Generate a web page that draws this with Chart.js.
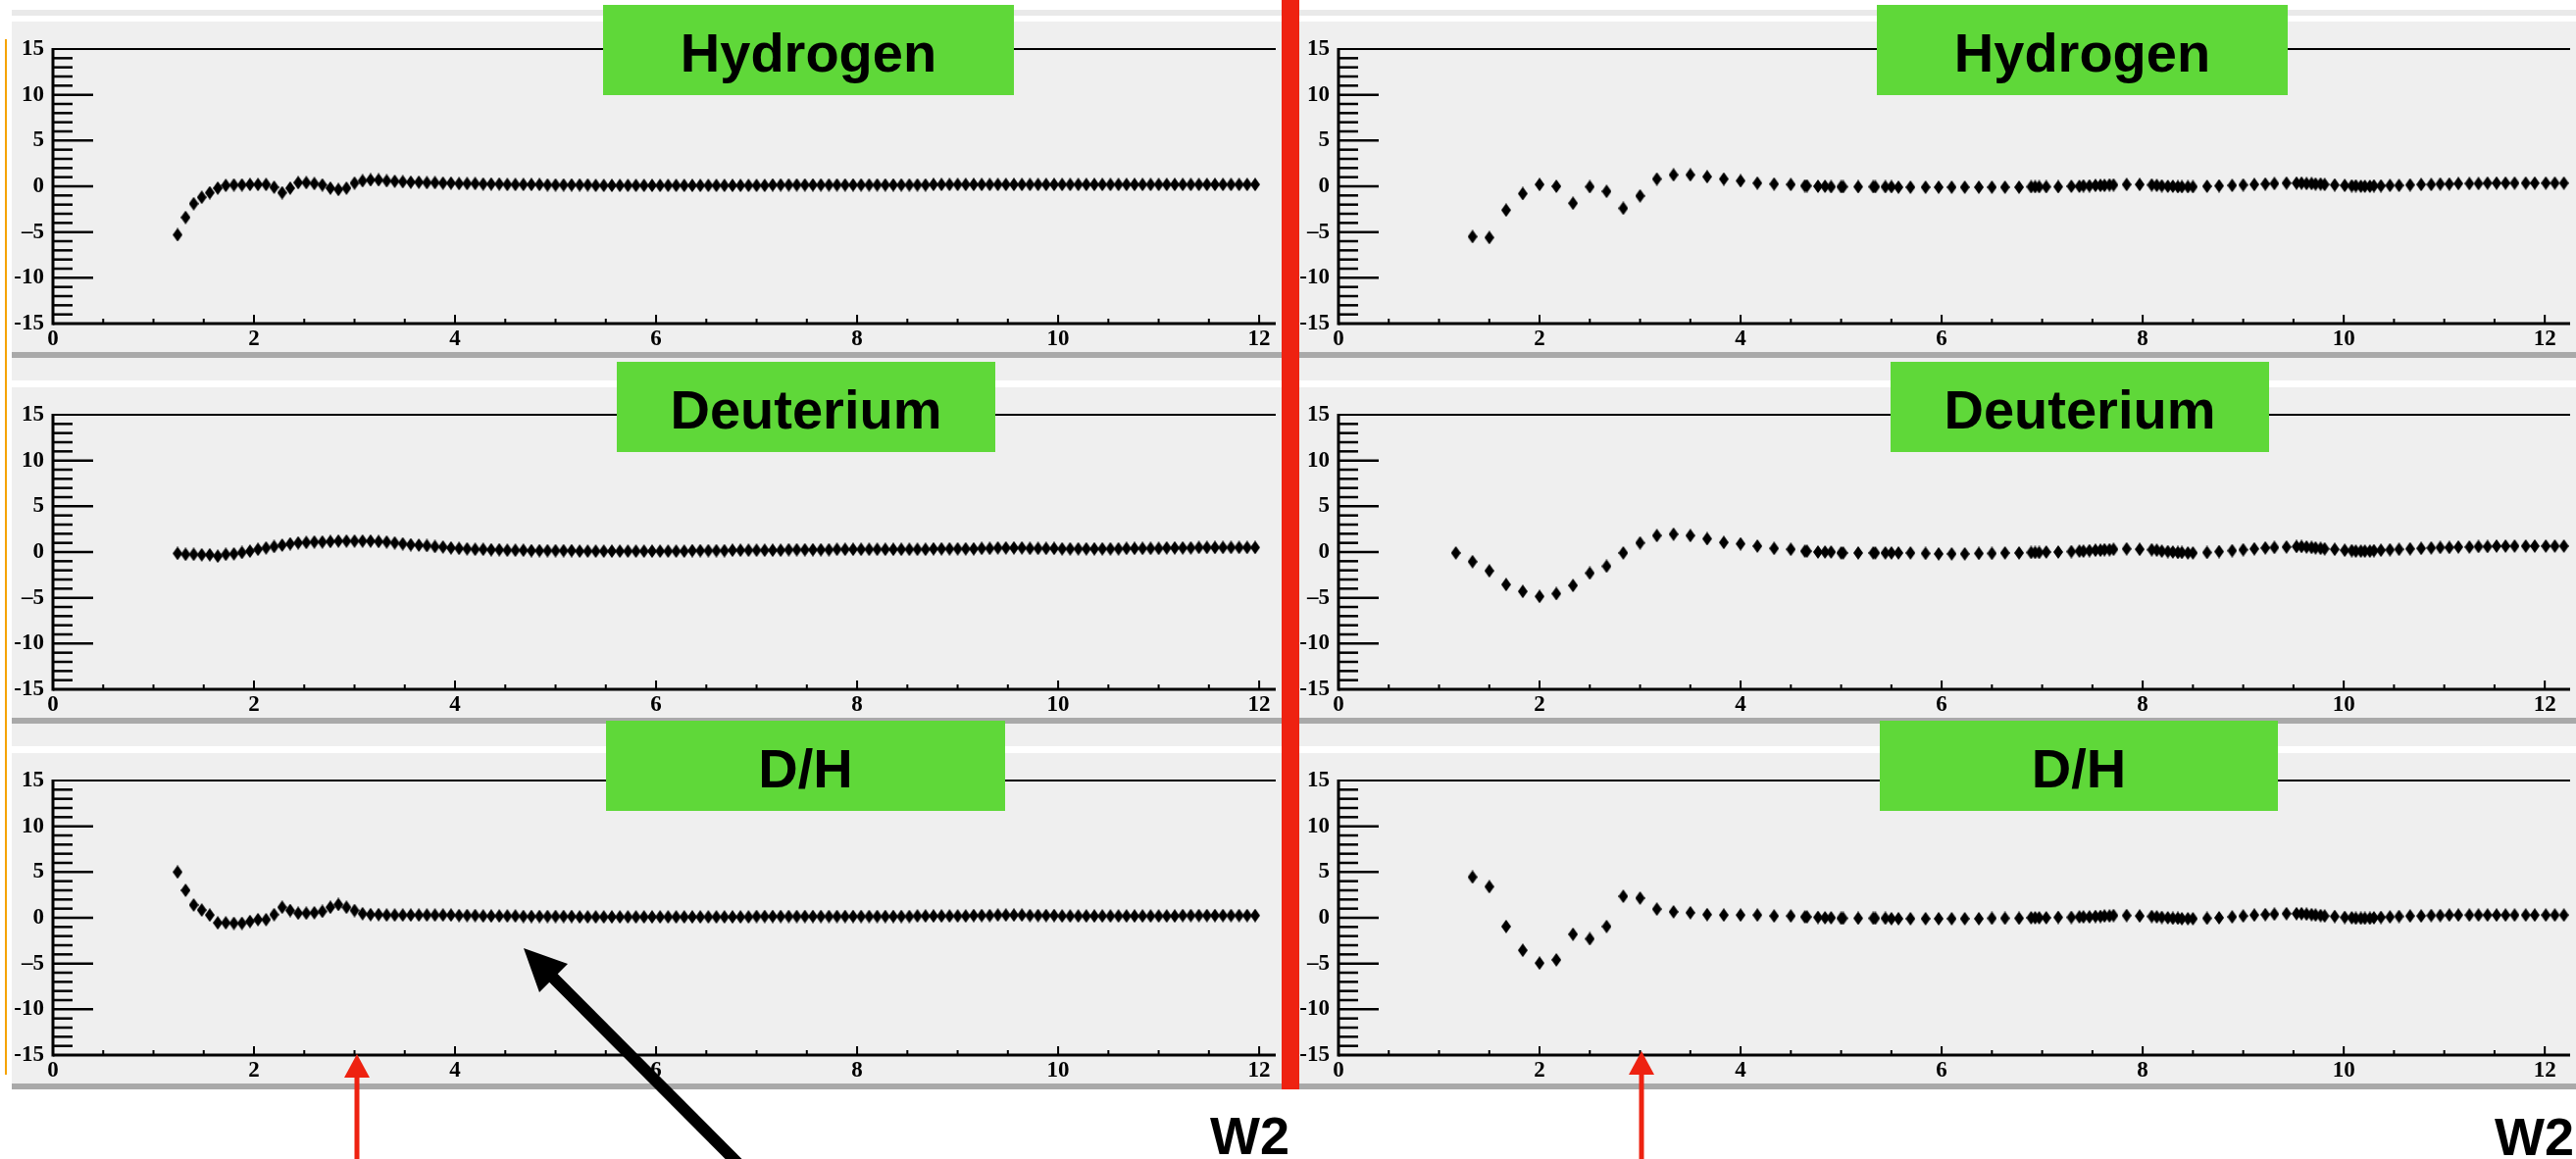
<!DOCTYPE html>
<html>
<head>
<meta charset="utf-8">
<script src="https://cdn.jsdelivr.net/npm/chart.js@4.4.1/dist/chart.umd.min.js"></script>
<style>
  body { margin:0; width:2627px; height:1182px; position:relative; overflow:hidden; background:#fff; font-family:'Liberation Sans', Arial, sans-serif; }
  .bg { position:absolute; left:12px; right:0; background:#efefef; }
  .sep { position:absolute; left:12px; right:0; height:6px; background:#a9a9a9; }
  canvas { position:absolute; z-index:2; }
  .title { position:absolute; z-index:4; background:#5fd839; color:#000; font-weight:bold; font-size:56px;
           display:flex; align-items:center; justify-content:center; padding-top:5px; box-sizing:border-box; }
  .w2 { position:absolute; z-index:4; font-weight:bold; font-size:54px; line-height:1; color:#000; }
</style>
</head>
<body>

<!-- panel backgrounds -->
<div class="bg" style="top:10px;height:6px;background:#e9e9e9"></div>
<div class="bg" style="top:22px;height:337px"></div>
<div class="sep" style="top:359px"></div>
<div class="bg" style="top:365px;height:23px"></div>
<div class="bg" style="top:395px;height:337px"></div>
<div class="sep" style="top:732px"></div>
<div class="bg" style="top:738px;height:23px"></div>
<div class="bg" style="top:768px;height:337px"></div>
<div class="sep" style="top:1105px"></div>
<div style="position:absolute;left:5px;top:40px;width:2px;height:1056px;background:#f5a300"></div>

<canvas id="hL" width="1307" height="350" style="left:0;top:20px"></canvas>
<canvas id="dL" width="1307" height="350" style="left:0;top:393px"></canvas>
<canvas id="rL" width="1307" height="350" style="left:0;top:766px"></canvas>
<canvas id="hR" width="1337" height="350" style="left:1290px;top:20px"></canvas>
<canvas id="dR" width="1337" height="350" style="left:1290px;top:393px"></canvas>
<canvas id="rR" width="1337" height="350" style="left:1290px;top:766px"></canvas>

<div style="position:absolute;z-index:5;left:1307px;top:0;width:18px;height:1111px;background:#ee2211"></div>

<div class="title" style="left:615px;top:5px;width:419px;height:92px">Hydrogen</div>
<div class="title" style="left:629px;top:369px;width:386px;height:92px">Deuterium</div>
<div class="title" style="left:618px;top:735px;width:407px;height:92px">D/H</div>
<div class="title" style="left:1914px;top:5px;width:419px;height:92px">Hydrogen</div>
<div class="title" style="left:1928px;top:369px;width:386px;height:92px">Deuterium</div>
<div class="title" style="left:1917px;top:735px;width:406px;height:92px">D/H</div>

<div class="w2" style="left:1234px;top:1131px">W2</div>
<div class="w2" style="left:2544px;top:1132px">W2</div>

<svg width="2627" height="1182" style="position:absolute;left:0;top:0;z-index:6">
  <rect x="361.5" y="1096" width="5" height="86" fill="#ee2211"/>
  <polygon points="364,1075 351,1099 377,1099" fill="#ee2211"/>
  <rect x="1671.5" y="1093" width="5" height="89" fill="#ee2211"/>
  <polygon points="1674,1072 1661,1096 1687,1096" fill="#ee2211"/>
  <line x1="560" y1="993" x2="772" y2="1206" stroke="#000" stroke-width="12"/>
  <polygon points="534,967 579,983 550,1012" fill="#000"/>
</svg>

<script>
// x positions of the left column (all three panels)
const xLeft = [
  1.24,1.32,1.40,1.48,1.56,1.64,1.72,1.80,1.88,1.96,
  2.04,2.12,2.20,2.28,2.36,2.44,2.52,2.60,2.68,2.76,
  2.84,2.92,3.00,3.08,3.16,3.24,3.32,3.40,3.48,3.56,
  3.64,3.72,3.80,3.88,3.96,4.04,4.12,4.20,4.28,4.36,
  4.44,4.52,4.60,4.68,4.76,4.84,4.92,5.00,5.08,5.16,
  5.24,5.32,5.40,5.48,5.56,5.64,5.72,5.80,5.88,5.96,
  6.04,6.12,6.20,6.28,6.36,6.44,6.52,6.60,6.68,6.76,
  6.84,6.92,7.00,7.08,7.16,7.24,7.32,7.40,7.48,7.56,
  7.64,7.72,7.80,7.88,7.96,8.04,8.12,8.20,8.28,8.36,
  8.44,8.52,8.60,8.68,8.76,8.84,8.92,9.00,9.08,9.16,
  9.24,9.32,9.40,9.48,9.56,9.64,9.72,9.80,9.88,9.96,
  10.04,10.12,10.20,10.28,10.36,10.44,10.52,10.60,10.68,10.76,
  10.84,10.92,11.00,11.08,11.16,11.24,11.32,11.40,11.48,11.56,
  11.64,11.72,11.80,11.88,11.96
];
const hydrogenLeft = [
  -5.3,-3.4,-1.9,-1.2,-0.7,-0.2,0.1,0.15,0.15,0.2,
  0.2,0.2,-0.1,-0.7,-0.2,0.4,0.4,0.3,0.15,-0.2,
  -0.35,-0.2,0.35,0.6,0.7,0.7,0.6,0.55,0.5,0.45,
  0.45,0.4,0.4,0.35,0.35,0.3,0.3,0.3,0.25,0.25,
  0.25,0.2,0.2,0.2,0.2,0.2,0.15,0.15,0.15,0.15,
  0.15,0.15,0.1,0.1,0.1,0.1,0.1,0.1,0.1,0.1,
  0.1,0.1,0.1,0.1,0.1,0.1,0.1,0.1,0.1,0.1,
  0.1,0.1,0.1,0.1,0.15,0.15,0.15,0.15,0.15,0.15,
  0.15,0.15,0.15,0.15,0.15,0.15,0.15,0.15,0.15,0.15,
  0.15,0.15,0.15,0.15,0.2,0.2,0.2,0.2,0.2,0.2,
  0.2,0.2,0.2,0.2,0.2,0.2,0.2,0.2,0.2,0.2,
  0.2,0.2,0.2,0.2,0.2,0.2,0.2,0.2,0.2,0.2,
  0.2,0.2,0.2,0.2,0.2,0.2,0.2,0.2,0.2,0.2,
  0.2,0.2,0.2,0.2,0.2
];
const deuteriumLeft = [
  -0.15,-0.25,-0.25,-0.3,-0.3,-0.45,-0.25,-0.2,-0.05,0.1,
  0.3,0.45,0.6,0.75,0.9,1.0,1.05,1.1,1.1,1.15,
  1.2,1.2,1.2,1.2,1.2,1.15,1.1,1.0,0.9,0.8,
  0.75,0.7,0.6,0.55,0.45,0.4,0.35,0.3,0.3,0.25,
  0.25,0.2,0.2,0.2,0.15,0.15,0.15,0.15,0.15,0.15,
  0.1,0.1,0.1,0.1,0.1,0.1,0.1,0.1,0.1,0.1,
  0.1,0.1,0.1,0.1,0.15,0.15,0.15,0.15,0.15,0.2,
  0.2,0.2,0.2,0.2,0.2,0.2,0.25,0.25,0.25,0.25,
  0.25,0.25,0.3,0.3,0.3,0.3,0.3,0.3,0.3,0.3,
  0.3,0.3,0.3,0.3,0.35,0.35,0.35,0.35,0.35,0.35,
  0.4,0.4,0.45,0.45,0.45,0.45,0.4,0.4,0.4,0.4,
  0.35,0.35,0.35,0.35,0.35,0.35,0.35,0.35,0.4,0.4,
  0.4,0.4,0.4,0.45,0.45,0.45,0.45,0.5,0.5,0.5,
  0.5,0.5,0.5,0.5,0.5
];
const ratioLeft = [
  5.0,3.0,1.4,0.85,0.3,-0.55,-0.55,-0.6,-0.6,-0.4,
  -0.2,-0.2,0.35,1.15,0.8,0.5,0.5,0.55,0.7,1.15,
  1.45,1.15,0.8,0.45,0.35,0.35,0.3,0.3,0.3,0.3,
  0.3,0.3,0.3,0.3,0.3,0.25,0.25,0.25,0.2,0.2,
  0.2,0.2,0.2,0.15,0.15,0.15,0.15,0.15,0.15,0.15,
  0.1,0.1,0.1,0.1,0.1,0.1,0.1,0.1,0.1,0.1,
  0.1,0.1,0.1,0.1,0.1,0.1,0.1,0.1,0.1,0.1,
  0.1,0.1,0.15,0.15,0.15,0.15,0.15,0.15,0.15,0.15,
  0.15,0.15,0.15,0.15,0.15,0.15,0.15,0.15,0.15,0.15,
  0.15,0.15,0.2,0.2,0.2,0.2,0.2,0.2,0.2,0.25,
  0.25,0.25,0.3,0.3,0.3,0.3,0.25,0.25,0.25,0.25,
  0.2,0.2,0.2,0.2,0.2,0.2,0.2,0.2,0.2,0.2,
  0.2,0.2,0.2,0.2,0.2,0.25,0.25,0.25,0.25,0.25,
  0.25,0.25,0.25,0.25,0.25
];

// x positions of the right column
const xRight = [
  1.167,1.333,1.5,1.667,1.833,2.0,2.167,2.333,2.5,2.667,
  2.833,3.0,3.167,3.333,3.5,3.667,3.833,4.0,4.167,4.333,
  4.5,4.64,4.66,4.77,4.84,4.9,5.0,5.02,5.17,5.32,
  5.34,5.44,5.5,5.57,5.69,5.84,5.97,6.1,6.23,6.37,
  6.5,6.63,6.77,6.89,6.93,6.97,7.04,7.16,7.29,7.37,
  7.41,7.47,7.53,7.58,7.62,7.67,7.71,7.84,7.97,8.09,
  8.14,8.19,8.25,8.3,8.35,8.39,8.45,8.5,8.64,8.76,
  8.89,9.0,9.11,9.22,9.31,9.43,9.53,9.58,9.63,9.68,
  9.72,9.77,9.81,9.91,10.01,10.08,10.12,10.17,10.21,10.26,
  10.3,10.37,10.46,10.55,10.66,10.77,10.87,10.96,11.05,11.14,
  11.25,11.34,11.43,11.52,11.61,11.7,11.81,11.9,12.01,12.1,
  12.19
];
const hydrogenRight = [
  null,-5.5,-5.6,-2.6,-0.8,0.2,0.0,-1.85,-0.05,-0.55,
  -2.4,-1.05,0.8,1.25,1.25,1.05,0.8,0.6,0.35,0.25,
  0.2,0.05,0.05,0.0,0.0,-0.05,-0.05,-0.05,-0.05,-0.05,
  -0.05,-0.05,-0.05,-0.1,-0.1,-0.1,-0.1,-0.1,-0.1,-0.1,
  -0.1,-0.1,-0.1,-0.05,-0.05,-0.05,-0.05,-0.05,0.0,0.0,
  0.05,0.05,0.1,0.1,0.1,0.15,0.15,0.2,0.2,0.15,
  0.1,0.05,0.0,0.0,-0.05,-0.05,-0.05,-0.05,0.0,0.05,
  0.1,0.15,0.2,0.25,0.3,0.35,0.35,0.35,0.3,0.3,
  0.25,0.25,0.2,0.15,0.1,0.05,0.05,0.0,0.0,0.0,
  0.05,0.05,0.1,0.1,0.15,0.2,0.2,0.25,0.25,0.3,
  0.3,0.3,0.35,0.35,0.35,0.35,0.35,0.35,0.35,0.35,
  0.35
];
const deuteriumRight = [
  -0.1,-1.05,-2.05,-3.55,-4.3,-4.85,-4.55,-3.65,-2.3,-1.55,
  -0.1,1.0,1.8,1.95,1.8,1.45,1.05,0.9,0.65,0.4,
  0.3,0.1,0.1,0.0,0.0,0.0,-0.1,-0.1,-0.1,-0.1,
  -0.1,-0.1,-0.1,-0.1,-0.1,-0.15,-0.2,-0.2,-0.2,-0.15,
  -0.15,-0.1,-0.1,-0.05,-0.05,-0.05,0.0,0.0,0.05,0.1,
  0.1,0.15,0.2,0.2,0.25,0.25,0.3,0.35,0.3,0.25,
  0.2,0.1,0.05,0.0,-0.05,-0.05,-0.1,-0.1,-0.05,0.05,
  0.15,0.25,0.35,0.45,0.5,0.55,0.6,0.6,0.55,0.5,
  0.45,0.4,0.35,0.3,0.2,0.15,0.1,0.1,0.1,0.1,
  0.15,0.2,0.25,0.3,0.35,0.4,0.45,0.5,0.5,0.55,
  0.55,0.6,0.6,0.65,0.65,0.65,0.65,0.65,0.65,0.65,
  0.65
];
const ratioRight = [
  null,4.45,3.4,-0.95,-3.55,-4.95,-4.6,-1.8,-2.3,-0.95,
  2.35,2.15,0.95,0.65,0.55,0.35,0.3,0.3,0.3,0.2,
  0.2,0.1,0.1,0.05,0.0,0.0,-0.05,-0.05,-0.05,-0.05,
  -0.05,-0.05,-0.1,-0.1,-0.1,-0.1,-0.1,-0.1,-0.1,-0.1,
  -0.05,-0.05,-0.05,0.0,0.0,0.0,0.0,0.05,0.05,0.1,
  0.1,0.1,0.15,0.15,0.2,0.2,0.25,0.25,0.2,0.15,
  0.1,0.05,0.0,-0.05,-0.05,-0.1,-0.1,-0.1,-0.05,0.0,
  0.1,0.2,0.3,0.35,0.4,0.45,0.45,0.45,0.4,0.35,
  0.3,0.25,0.2,0.15,0.05,0.0,-0.05,-0.05,-0.05,-0.05,
  0.0,0.05,0.1,0.15,0.2,0.2,0.25,0.25,0.3,0.3,
  0.3,0.3,0.3,0.3,0.3,0.3,0.3,0.3,0.3,0.3,
  0.3
];

const xTickValues = [0, 2, 4, 6, 8, 10, 12];
const xTickLabels = ['0', '2', '4', '6', '8', '10', '12'];
const yTickValues = [-15, -10, -5, 0, 5, 10, 15];
const yTickLabels = ['-15', '-10', '\u20135', '0', '5', '10', '15'];

function diamond(w, h) {
  const c = document.createElement('canvas');
  c.width = w; c.height = h;
  const g = c.getContext('2d');
  g.fillStyle = '#000';
  g.beginPath();
  g.moveTo(w / 2, 0); g.lineTo(w, h / 2); g.lineTo(w / 2, h); g.lineTo(0, h / 2);
  g.closePath();
  g.fill();
  return c;
}
const marker = diamond(10, 14);

// ROOT-like frame: thick axes, ticks pointing into the pad
const frame = {
  id: 'frame',
  afterDraw(chart) {
    const {ctx, chartArea: a, scales: {x, y}} = chart;
    const seg = (x1, y1, x2, y2) => { ctx.beginPath(); ctx.moveTo(x1, y1); ctx.lineTo(x2, y2); ctx.stroke(); };
    ctx.save();
    ctx.strokeStyle = '#000';
    ctx.lineWidth = 2.5;
    for (let v = -14; v <= 14; v++) {
      const py = y.getPixelForValue(v);
      seg(a.left, py, a.left + (v % 5 === 0 ? 41 : 20), py);
    }
    ctx.lineWidth = 2;
    for (let v = 0.5; v < x.max; v += 0.5) {
      const px = x.getPixelForValue(v);
      seg(px, a.bottom, px, a.bottom - (v % 2 === 0 ? 9 : 5));
    }
    seg(a.left, a.top, a.right, a.top);
    ctx.lineWidth = 3;
    seg(a.left, a.top - 1, a.left, a.bottom + 1.5);
    seg(a.left, a.bottom, a.right, a.bottom);
    ctx.restore();
  }
};

const tickFont = {family: 'Liberation Serif', weight: 'bold', size: 23};

function panel(id, xs, ys, yAxisWidth, xMax) {
  const pts = xs.map((x, i) => ({x: x, y: ys[i]})).filter(p => p.y !== null);
  new Chart(document.getElementById(id), {
    type: 'scatter',
    data: { datasets: [{ data: pts, pointStyle: marker, pointRadius: 5, pointHoverRadius: 5 }] },
    options: {
      responsive: false,
      animation: false,
      events: [],
      layout: { padding: { top: 30, left: 0, right: 0, bottom: 0 } },
      plugins: { legend: { display: false }, tooltip: { enabled: false } },
      scales: {
        x: {
          type: 'linear', min: 0, max: xMax,
          afterBuildTicks: s => { s.ticks = xTickValues.map(v => ({value: v})); },
          afterFit: s => { s.height = 40; },
          grid: { display: false, drawTicks: false },
          border: { display: false },
          ticks: { font: tickFont, color: '#000', padding: 2, maxRotation: 0, autoSkip: false,
                   callback: (v, i) => xTickLabels[i] }
        },
        y: {
          min: -15, max: 15,
          afterBuildTicks: s => { s.ticks = yTickValues.map(v => ({value: v})); },
          afterFit: s => { s.width = yAxisWidth; },
          grid: { display: false, drawTicks: false },
          border: { display: false },
          ticks: { font: tickFont, color: '#000', padding: 9, autoSkip: false,
                   callback: (v, i) => yTickLabels[i] }
        }
      }
    },
    plugins: [frame]
  });
}

panel('hL', xLeft, hydrogenLeft, 54, 12.165);
panel('dL', xLeft, deuteriumLeft, 54, 12.165);
panel('rL', xLeft, ratioLeft, 54, 12.165);
panel('hR', xRight, hydrogenRight, 75, 12.252);
panel('dR', xRight, deuteriumRight, 75, 12.252);
panel('rR', xRight, ratioRight, 75, 12.252);
</script>
</body>
</html>
